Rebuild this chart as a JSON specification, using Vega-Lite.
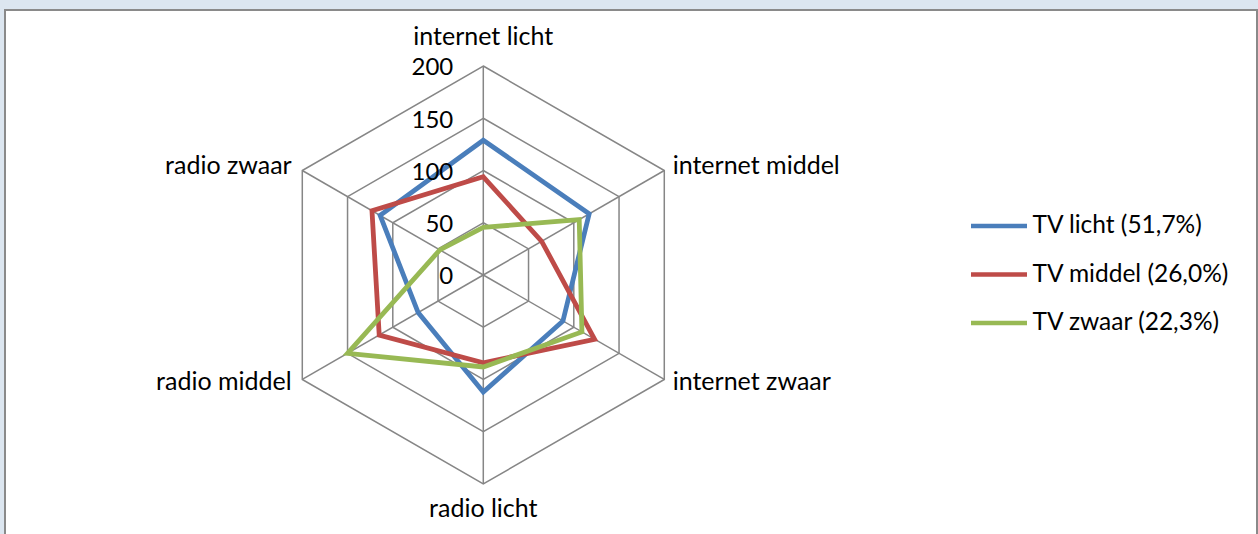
{
  "$schema": "https://vega.github.io/schema/vega-lite/v6.json",
  "width": 1258,
  "height": 534,
  "autosize": {"type": "fit", "contains": "padding"},
  "padding": {"top": 10, "left": 5, "right": 1, "bottom": -2},
  "background": "#dce6f0",
  "config": {
    "view": {"fill": "white", "stroke": "#8a8a8a", "strokeWidth": 2},
    "font": "Lato",
    "text": {"font": "Lato", "color": "#000000"}
  },
  "datasets": {
    "series": [
      {"series": "TV licht (51,7%)", "axis": "internet licht", "value": 129},
      {"series": "TV licht (51,7%)", "axis": "internet middel", "value": 117},
      {"series": "TV licht (51,7%)", "axis": "internet zwaar", "value": 88},
      {"series": "TV licht (51,7%)", "axis": "radio licht", "value": 112},
      {"series": "TV licht (51,7%)", "axis": "radio middel", "value": 72},
      {"series": "TV licht (51,7%)", "axis": "radio zwaar", "value": 114},
      {"series": "TV middel (26,0%)", "axis": "internet licht", "value": 94},
      {"series": "TV middel (26,0%)", "axis": "internet middel", "value": 64.5},
      {"series": "TV middel (26,0%)", "axis": "internet zwaar", "value": 123},
      {"series": "TV middel (26,0%)", "axis": "radio licht", "value": 84},
      {"series": "TV middel (26,0%)", "axis": "radio middel", "value": 115},
      {"series": "TV middel (26,0%)", "axis": "radio zwaar", "value": 123},
      {"series": "TV zwaar (22,3%)", "axis": "internet licht", "value": 45.5},
      {"series": "TV zwaar (22,3%)", "axis": "internet middel", "value": 106},
      {"series": "TV zwaar (22,3%)", "axis": "internet zwaar", "value": 109},
      {"series": "TV zwaar (22,3%)", "axis": "radio licht", "value": 88},
      {"series": "TV zwaar (22,3%)", "axis": "radio middel", "value": 150},
      {"series": "TV zwaar (22,3%)", "axis": "radio zwaar", "value": 48}
    ],
    "axes": [
      {"axis": "internet licht", "value": 200},
      {"axis": "internet middel", "value": 200},
      {"axis": "internet zwaar", "value": 200},
      {"axis": "radio licht", "value": 200},
      {"axis": "radio middel", "value": 200},
      {"axis": "radio zwaar", "value": 200}
    ],
    "rings": [
      {"value": 50, "axis": ["internet licht", "internet middel", "internet zwaar", "radio licht", "radio middel", "radio zwaar"]},
      {"value": 100, "axis": ["internet licht", "internet middel", "internet zwaar", "radio licht", "radio middel", "radio zwaar"]},
      {"value": 150, "axis": ["internet licht", "internet middel", "internet zwaar", "radio licht", "radio middel", "radio zwaar"]},
      {"value": 200, "axis": ["internet licht", "internet middel", "internet zwaar", "radio licht", "radio middel", "radio zwaar"]}
    ],
    "ticks": [
      {"level": 0}, {"level": 50}, {"level": 100}, {"level": 150}, {"level": 200}
    ]
  },
  "layer": [
    {
      "data": {"name": "rings"},
      "transform": [
        {"flatten": ["axis"]},
        {"calculate": "indexof(['internet licht','internet middel','internet zwaar','radio licht','radio middel','radio zwaar'], datum.axis)", "as": "idx"},
        {"calculate": "PI/2 - datum.idx*PI/3", "as": "ang"},
        {"calculate": "datum.value*cos(datum.ang)", "as": "x"},
        {"calculate": "datum.value*sin(datum.ang)", "as": "y"}
      ],
      "mark": {"type": "line", "interpolate": "linear-closed", "color": "#868686", "strokeWidth": 1.5},
      "encoding": {
        "x": {"field": "x", "type": "quantitative", "scale": {"domain": [-457.7, 740.4], "nice": false, "zero": false}, "axis": null},
        "y": {"field": "y", "type": "quantitative", "scale": {"domain": [-249.8, 253.6], "nice": false, "zero": false}, "axis": null},
        "detail": {"field": "value", "type": "nominal"},
        "order": {"field": "idx", "type": "quantitative"}
      }
    },
    {
      "data": {"name": "axes"},
      "transform": [
        {"calculate": "indexof(['internet licht','internet middel','internet zwaar','radio licht','radio middel','radio zwaar'], datum.axis)", "as": "idx"},
        {"calculate": "PI/2 - datum.idx*PI/3", "as": "ang"},
        {"calculate": "datum.value*cos(datum.ang)", "as": "x"},
        {"calculate": "datum.value*sin(datum.ang)", "as": "y"}
      ],
      "mark": {"type": "rule", "color": "#868686", "strokeWidth": 1.5},
      "encoding": {
        "x": {"field": "x", "type": "quantitative"},
        "y": {"field": "y", "type": "quantitative"},
        "x2": {"datum": 0},
        "y2": {"datum": 0}
      }
    },
    {
      "data": {"name": "series"},
      "transform": [
        {"calculate": "indexof(['internet licht','internet middel','internet zwaar','radio licht','radio middel','radio zwaar'], datum.axis)", "as": "idx"},
        {"calculate": "PI/2 - datum.idx*PI/3", "as": "ang"},
        {"calculate": "datum.value*cos(datum.ang)", "as": "x"},
        {"calculate": "datum.value*sin(datum.ang)", "as": "y"}
      ],
      "mark": {"type": "line", "interpolate": "linear-closed", "strokeWidth": 4.8, "strokeJoin": "miter"},
      "encoding": {
        "x": {"field": "x", "type": "quantitative"},
        "y": {"field": "y", "type": "quantitative"},
        "order": {"field": "idx", "type": "quantitative"},
        "color": {
          "field": "series",
          "type": "nominal",
          "scale": {
            "domain": ["TV licht (51,7%)", "TV middel (26,0%)", "TV zwaar (22,3%)"],
            "range": ["#4a7ebb", "#be4b48", "#98b954"]
          },
          "legend": {
            "orient": "none",
            "legendX": 963.5,
            "legendY": 201,
            "title": null,
            "symbolType": "stroke",
            "symbolSize": 3136,
            "symbolStrokeWidth": 4.5,
            "labelFontSize": 24.5,
            "labelFont": "Lato",
            "labelColor": "#000000",
            "labelOffset": 3,
            "padding": 0,
            "clipHeight": 30,
            "rowPadding": 18.5,
            "labelLimit": 400
          }
        }
      }
    },
    {
      "data": {"name": "ticks"},
      "mark": {"type": "text", "align": "right", "baseline": "alphabetic", "dx": -30, "dy": 9.3, "fontSize": 24},
      "encoding": {
        "x": {"datum": 0},
        "y": {"field": "level", "type": "quantitative"},
        "text": {"field": "level", "type": "quantitative"}
      }
    },
    {
      "data": {"name": "axes"},
      "transform": [
        {"calculate": "indexof(['internet licht','internet middel','internet zwaar','radio licht','radio middel','radio zwaar'], datum.axis)", "as": "idx"},
        {"calculate": "PI/2 - datum.idx*PI/3", "as": "ang"},
        {"calculate": "datum.value*cos(datum.ang)", "as": "x"},
        {"calculate": "datum.value*sin(datum.ang)", "as": "y"}
      ],
      "encoding": {
        "x": {"field": "x", "type": "quantitative"},
        "y": {"field": "y", "type": "quantitative"},
        "text": {"field": "axis", "type": "nominal"}
      },
      "layer": [
        {"transform": [{"filter": "datum.idx == 0"}], "mark": {"type": "text", "align": "center", "baseline": "alphabetic", "dy": -20.7, "fontSize": 25}},
        {"transform": [{"filter": "datum.idx == 1"}], "mark": {"type": "text", "align": "left", "baseline": "alphabetic", "dx": 8.4, "dy": 3.8, "fontSize": 25}},
        {"transform": [{"filter": "datum.idx == 2"}], "mark": {"type": "text", "align": "left", "baseline": "alphabetic", "dx": 8.4, "dy": 10.5, "fontSize": 25}},
        {"transform": [{"filter": "datum.idx == 3"}], "mark": {"type": "text", "align": "center", "baseline": "alphabetic", "dy": 32.7, "fontSize": 25}},
        {"transform": [{"filter": "datum.idx == 4"}], "mark": {"type": "text", "align": "right", "baseline": "alphabetic", "dx": -10.6, "dy": 10.5, "fontSize": 25}},
        {"transform": [{"filter": "datum.idx == 5"}], "mark": {"type": "text", "align": "right", "baseline": "alphabetic", "dx": -10.6, "dy": 3.8, "fontSize": 25}}
      ]
    }
  ]
}
